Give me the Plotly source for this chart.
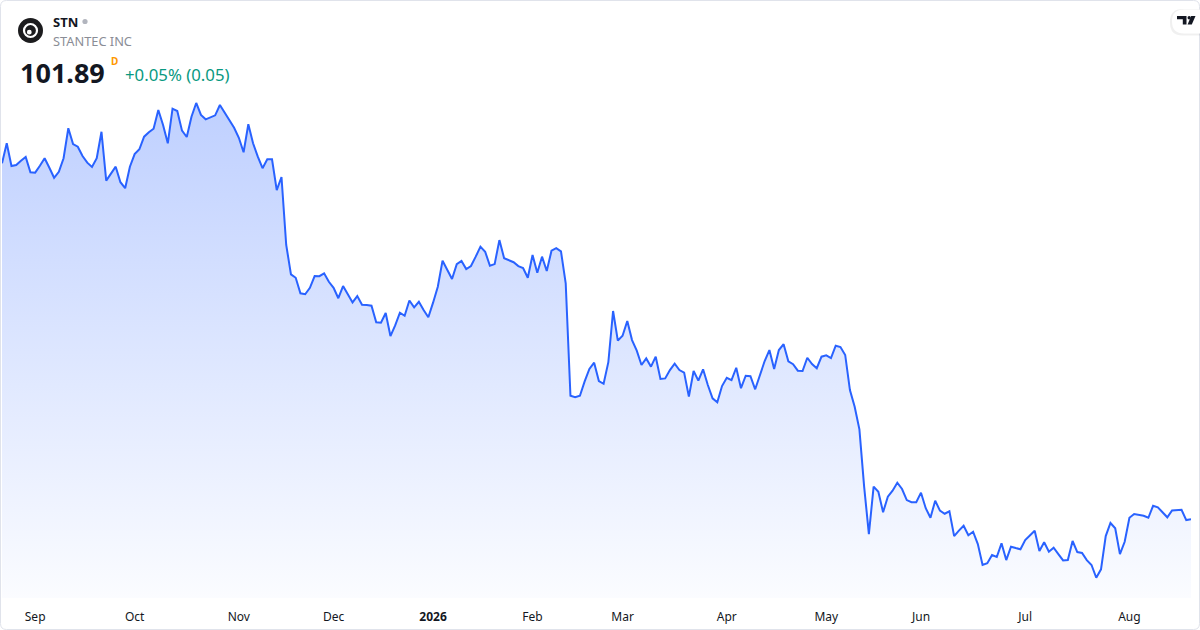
import plotly.graph_objects as go

# ---------------- data ----------------
ticker = "STN"
company = "STANTEC INC"
last_price = "101.89"
change_text = "+0.05% (0.05)"

close = [
    125.03, 126.33, 124.85, 124.92, 125.20, 125.44, 124.45, 124.42, 124.87, 125.36,
    124.74, 124.09, 124.48, 125.36, 127.31, 126.28, 126.11, 125.50, 125.07, 124.79,
    125.36, 127.08, 123.90, 124.33, 124.81, 123.80, 123.41, 124.81, 125.63, 125.94,
    126.76, 127.05, 127.28, 128.49, 127.52, 126.33, 128.58, 128.43, 127.15, 126.74,
    128.06, 128.95, 128.17, 127.89, 128.02, 128.15, 128.82, 128.35, 127.86, 127.34,
    126.69, 125.75, 127.57, 126.33, 125.46, 124.71, 125.29, 125.29, 123.29, 124.14,
    119.72, 117.81, 117.59, 116.58, 116.52, 116.94, 117.70, 117.69, 117.88, 117.33,
    116.94, 116.26, 117.05, 116.52, 115.99, 116.40, 115.84, 115.82, 115.77, 114.70,
    114.67, 115.30, 113.80, 114.49, 115.32, 115.12, 116.11, 115.67, 116.03, 115.49,
    115.02, 115.97, 117.01, 118.70, 118.14, 117.51, 118.47, 118.68, 118.16, 118.35,
    118.96, 119.61, 119.28, 118.37, 118.48, 120.04, 118.86, 118.74, 118.60, 118.35,
    118.22, 117.59, 119.07, 117.92, 118.96, 118.03, 119.35, 119.52, 119.31, 117.23,
    109.92, 109.82, 109.92, 110.85, 111.66, 112.07, 110.88, 110.70, 112.10, 115.43,
    113.50, 113.82, 114.78, 113.54, 112.85, 111.92, 112.35, 111.81, 112.46, 111.01,
    111.05, 111.59, 112.00, 111.59, 111.42, 109.86, 111.53, 110.90, 111.64, 110.62,
    109.75, 109.50, 110.55, 111.09, 110.93, 111.74, 110.41, 111.22, 111.19, 110.34,
    111.27, 112.18, 112.89, 111.66, 112.89, 113.27, 112.16, 111.97, 111.55, 111.53,
    112.39, 111.98, 111.71, 112.46, 112.55, 112.37, 113.17, 113.09, 112.57, 110.29,
    109.21, 107.74, 104.01, 100.93, 104.01, 103.68, 102.35, 103.36, 103.75, 104.27,
    103.86, 103.14, 103.00, 103.00, 103.62, 102.61, 101.99, 103.10, 102.45, 102.25,
    102.41, 100.80, 101.15, 101.47, 100.85, 101.08, 100.28, 98.92, 99.03, 99.57,
    99.44, 100.33, 99.24, 100.11, 100.02, 99.94, 100.54, 100.82, 101.15, 99.83,
    100.40, 99.78, 100.04, 99.63, 99.22, 99.24, 100.48, 99.76, 99.70, 99.24,
    98.92, 98.09, 98.64, 100.80, 101.65, 101.31, 99.63, 100.43, 101.99, 102.23,
    102.17, 102.12, 101.99, 102.77, 102.67, 102.34, 102.02, 102.47, 102.47, 102.51,
    101.84, 101.89,
]
bar_index = list(range(len(close)))

month_tick_bars = [7, 28, 50, 70, 91, 112, 131, 153, 174, 194, 216, 238]
month_tick_labels = ["Sep", "Oct", "Nov", "Dec", "<b>2026</b>", "Feb", "Mar",
                     "Apr", "May", "Jun", "Jul", "Aug"]

# ---------------- layout helpers ----------------
W, H = 1200, 630
ML, MR, MT, MB = 2, 9, 0, 32
PW, PH = W - ML - MR, H - MT - MB
Y_LOW, Y_HIGH = 96.7745, 135.6445

LINE = "#2962ff"
TEXT = "#131722"
FONT = "Noto Sans"


def px(x):
    return (x - ML) / PW


def py(y):
    return (PH + MT - y) / PH


def rounded_rect(x0, y0, x1, y1, r):
    return (
        f"M{px(x0 + r)},{py(y0)} L{px(x1 - r)},{py(y0)} "
        f"Q{px(x1)},{py(y0)} {px(x1)},{py(y0 + r)} "
        f"L{px(x1)},{py(y1 - r)} Q{px(x1)},{py(y1)} {px(x1 - r)},{py(y1)} "
        f"L{px(x0 + r)},{py(y1)} Q{px(x0)},{py(y1)} {px(x0)},{py(y1 - r)} "
        f"L{px(x0)},{py(y0 + r)} Q{px(x0)},{py(y0)} {px(x0 + r)},{py(y0)} Z"
    )


def circle(cx, cy, r, **kw):
    return dict(type="circle", xref="paper", yref="paper",
                x0=px(cx - r), x1=px(cx + r), y0=py(cy + r), y1=py(cy - r), **kw)


fig = go.Figure()
fig.add_trace(go.Scatter(
    x=bar_index, y=close, mode="lines",
    line=dict(color=LINE, width=2),
    fill="tozeroy",
    fillgradient=dict(
        type="vertical",
        colorscale=[[0, "rgba(41,98,255,0.02)"], [1, "rgba(41,98,255,0.30)"]],
        start=Y_LOW, stop=max(close),
    ),
    hoverinfo="skip",
))

shapes = [
    # card border
    dict(type="path", xref="paper", yref="paper",
         path=rounded_rect(0.5, 0.5, W - 0.5, H - 0.5, 6),
         line=dict(color="#e0e3eb", width=1), fillcolor="rgba(0,0,0,0)", layer="above"),
    # logo
    circle(30.5, 30.5, 12.5, fillcolor="#1c1c1e", line=dict(width=0), layer="above"),
    circle(30.5, 30.5, 6.5, fillcolor="rgba(0,0,0,0)", line=dict(color="white", width=2.2), layer="above"),
    circle(29.3, 32.2, 2.4, fillcolor="white", line=dict(width=0), layer="above"),
    # status dot after ticker
    circle(85, 21.5, 2.6, fillcolor="#b2b5be", line=dict(width=0), layer="above"),
    # TradingView tab (shadow + pill)
    dict(type="path", xref="paper", yref="paper",
         path=rounded_rect(1170, 9, 1214, 35.5, 12.5),
         line=dict(width=0), fillcolor="rgba(0,0,0,0.06)", layer="above"),
    dict(type="path", xref="paper", yref="paper",
         path=rounded_rect(1172, 9.5, 1214, 33.5, 12),
         line=dict(width=0), fillcolor="white", layer="above"),
    # TradingView glyph
    dict(type="path", xref="paper", yref="paper",
         path=(f"M{px(1177)},{py(16)} L{px(1186.5)},{py(16)} L{px(1186.5)},{py(24.5)} "
               f"L{px(1182.8)},{py(24.5)} L{px(1182.8)},{py(19.3)} L{px(1177)},{py(19.3)} Z"),
         line=dict(width=0), fillcolor=TEXT, layer="above"),
    circle(1189.2, 17.7, 1.7, fillcolor=TEXT, line=dict(width=0), layer="above"),
    dict(type="path", xref="paper", yref="paper",
         path=(f"M{px(1191.2)},{py(16)} L{px(1195.5)},{py(16)} L{px(1191.8)},{py(24.5)} "
               f"L{px(1187.6)},{py(24.5)} Z"),
         line=dict(width=0), fillcolor=TEXT, layer="above"),
]

annotations = [
    dict(text=f"<b>{ticker}</b>", x=px(51), y=py(21.5), font=dict(size=13, color=TEXT)),
    dict(text=company, x=px(51), y=py(40.5), font=dict(size=12.8, color="#8a8d96")),
    dict(text=f"<b>{last_price}</b>", x=px(18), y=py(72.5), font=dict(size=27, color=TEXT)),
    dict(text="<b>D</b>", x=px(108.5), y=py(61), font=dict(size=10, color="#ff9800")),
    dict(text=change_text, x=px(123), y=py(74.5), font=dict(size=16.8, color="#089981")),
]
for a in annotations:
    a.update(xref="paper", yref="paper", xanchor="left", yanchor="middle",
             showarrow=False)

fig.update_layout(
    width=W, height=H,
    margin=dict(l=ML, r=MR, t=MT, b=MB),
    paper_bgcolor="white", plot_bgcolor="white",
    showlegend=False,
    font=dict(family=FONT, color=TEXT),
    shapes=shapes,
    annotations=annotations,
    xaxis=dict(range=[0, len(close) - 1], tickvals=month_tick_bars, ticktext=month_tick_labels,
               showgrid=False, zeroline=False, showline=False, ticks="",
               tickfont=dict(size=12, color=TEXT, family=FONT),
               ticklabelstandoff=10, fixedrange=True),
    yaxis=dict(range=[Y_LOW, Y_HIGH], visible=False, showgrid=False, zeroline=False,
               fixedrange=True),
)

fig.write_html(
    "out.html",
    config={"displayModeBar": False},
    post_script="document.body.style.margin='0';document.body.style.overflow='hidden';",
)
